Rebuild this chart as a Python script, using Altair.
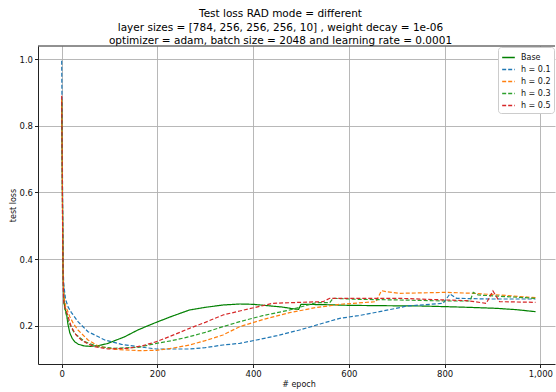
import altair as alt
import pandas as pd

series_names = ["Base", "h = 0.1", "h = 0.2", "h = 0.3", "h = 0.5"]
series_colors = ["green", "#1f77b4", "#ff7f0e", "#2ca02c", "#d62728"]

base_epoch = [0, 1, 2, 3, 5, 7, 10, 13, 17, 22, 27, 35, 48, 60, 76, 95, 111, 132, 159, 194, 230, 267, 300, 337, 372, 400, 430, 460, 487, 495, 500, 550, 600, 664, 750, 804, 850, 908, 950, 990]
base_loss = [0.88, 0.72, 0.52, 0.36, 0.27, 0.25, 0.238, 0.205, 0.178, 0.162, 0.152, 0.144, 0.139, 0.138, 0.14, 0.146, 0.155, 0.167, 0.187, 0.208, 0.228, 0.247, 0.255, 0.262, 0.265, 0.264, 0.26, 0.256, 0.25, 0.249, 0.264, 0.263, 0.261, 0.26, 0.259, 0.257, 0.255, 0.252, 0.248, 0.242]

h01_epoch = [0, 1, 2, 3, 4, 5, 8, 13, 20, 34, 55, 90, 125, 159, 198, 267, 300, 337, 372, 407, 450, 497, 540, 581, 620, 664, 706, 720, 760, 797, 811, 825, 894, 990]
h01_loss = [0.995, 0.80, 0.56, 0.40, 0.33, 0.315, 0.28, 0.257, 0.24, 0.212, 0.182, 0.157, 0.144, 0.137, 0.13, 0.13, 0.134, 0.142, 0.147, 0.157, 0.17, 0.187, 0.205, 0.222, 0.23, 0.242, 0.254, 0.259, 0.263, 0.267, 0.295, 0.282, 0.28, 0.28]

h02_epoch = [0, 1, 2, 3, 4, 5, 8, 17, 25, 34, 55, 76, 111, 163, 198, 230, 267, 300, 337, 372, 420, 476, 530, 581, 620, 657, 668, 678, 706, 804, 860, 915, 990]
h02_loss = [0.88, 0.70, 0.50, 0.36, 0.30, 0.285, 0.26, 0.227, 0.205, 0.187, 0.157, 0.139, 0.129, 0.125, 0.126, 0.132, 0.142, 0.155, 0.172, 0.197, 0.218, 0.239, 0.254, 0.264, 0.268, 0.272, 0.305, 0.302, 0.297, 0.3, 0.297, 0.292, 0.284]

h03_epoch = [0, 1, 2, 3, 4, 5, 8, 13, 20, 27, 48, 76, 111, 159, 198, 230, 267, 300, 337, 372, 420, 476, 532, 560, 567, 620, 706, 804, 853, 860, 870, 894, 990]
h03_loss = [0.87, 0.68, 0.48, 0.34, 0.28, 0.265, 0.24, 0.217, 0.195, 0.177, 0.152, 0.137, 0.132, 0.135, 0.147, 0.155, 0.167, 0.18, 0.197, 0.212, 0.23, 0.247, 0.269, 0.269, 0.282, 0.279, 0.277, 0.274, 0.274, 0.3, 0.292, 0.29, 0.282]

h05_epoch = [0, 1, 2, 3, 4, 5, 10, 20, 30, 41, 55, 69, 97, 139, 170, 198, 230, 267, 300, 337, 372, 441, 500, 546, 560, 706, 804, 846, 887, 901, 915, 990]
h05_loss = [0.89, 0.70, 0.48, 0.34, 0.28, 0.262, 0.242, 0.197, 0.172, 0.157, 0.145, 0.137, 0.13, 0.132, 0.14, 0.152, 0.17, 0.192, 0.21, 0.232, 0.244, 0.267, 0.27, 0.272, 0.282, 0.282, 0.277, 0.275, 0.267, 0.304, 0.272, 0.27]

x_ticks = [0, 200, 400, 600, 800, 1000]
y_ticks = [0.2, 0.4, 0.6, 0.8, 1.0]

rows = []
for name, ep, lo in zip(series_names,
                        [base_epoch, h01_epoch, h02_epoch, h03_epoch, h05_epoch],
                        [base_loss, h01_loss, h02_loss, h03_loss, h05_loss]):
    for i, (e, l) in enumerate(zip(ep, lo)):
        rows.append({"series": name, "epoch": e, "loss": l, "order": i})
df = pd.DataFrame(rows)

W, H = 517, 318
FONT = "DejaVu Sans"

legend_kw = dict(title=None, orient="none", legendX=460, legendY=1,
                 symbolType="stroke", symbolSize=160, symbolStrokeWidth=1.5,
                 labelFontSize=8, labelFont=FONT, labelColor="#111111", labelOffset=5,
                 rowPadding=0, fillColor="white", strokeColor="#cccccc", padding=3,
                 cornerRadius=3)

lines = alt.Chart(df).mark_line(strokeWidth=1.2, clip=True).encode(
    x=alt.X("epoch:Q", scale=alt.Scale(domain=[-49.5, 1030.7], nice=False, zero=False),
            axis=alt.Axis(values=x_ticks, title="# epoch", grid=True, titleY=20,
                          titleBaseline="middle", titleX=W / 2 + 2)),
    y=alt.Y("loss:Q", scale=alt.Scale(domain=[0.085, 1.039], nice=False, zero=False),
            axis=alt.Axis(values=y_ticks, format=".1f", title="test loss", grid=True,
                          titleX=-25, titleY=H / 2, titleBaseline="middle", titleAngle=-90)),
    color=alt.Color("series:N", scale=alt.Scale(domain=series_names, range=series_colors),
                    legend=alt.Legend(**legend_kw)),
    strokeDash=alt.StrokeDash("series:N", scale=alt.Scale(domain=series_names,
                              range=[[1, 0], [4, 2], [4, 2], [4, 2], [4, 2]]),
                              legend=alt.Legend(**legend_kw)),
    order="order:Q",
)

top_spine = alt.Chart(alt.Data(values=[{"a": 1}])).mark_rule(color="#222222", strokeWidth=1).encode(
    x=alt.value(0), x2=alt.value(W), y=alt.value(0)
)

chart = alt.layer(lines, top_spine).properties(
    width=W, height=H,
    padding={"left": 38, "top": 46, "right": 1, "bottom": 28},
    autosize="none",
    title=alt.TitleParams(
        text=["Test loss RAD mode = different",
              "layer sizes = [784, 256, 256, 256, 10] , weight decay = 1e-06",
              "optimizer = adam, batch size = 2048 and learning rate = 0.0001"],
        font=FONT, fontSize=10.5, fontWeight="normal", color="black",
        anchor="middle", dx=-16, offset=-1, lineHeight=13.3,
    ),
).configure_view(stroke=None).configure_axis(
    labelFont=FONT, labelFontSize=8.5, labelColor="#111111",
    titleFont=FONT, titleFontSize=8, titleFontWeight="normal", titleColor="#111111",
    domainColor="#222222", domainWidth=1, tickColor="#222222", tickSize=3.5,
    gridColor="#b0b0b0", gridWidth=0.9, labelPadding=2,
)

chart.save("out.html", embed_options={"renderer": "svg", "actions": False})
